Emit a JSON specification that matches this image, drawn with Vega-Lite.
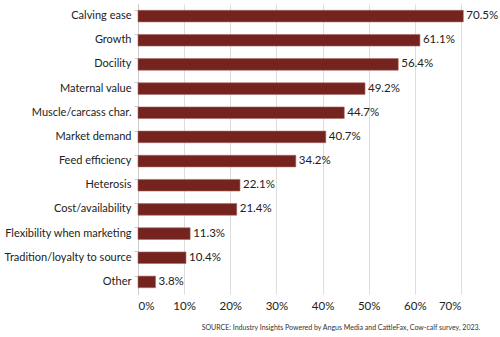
{
  "$schema": "https://vega.github.io/schema/vega-lite/v6.json",
  "autosize": "none",
  "width": 323,
  "height": 290,
  "padding": {"left": 138, "top": 4, "right": 39, "bottom": 43},
  "background": "white",
  "title": {
    "text": "SOURCE: Industry Insights Powered by Angus Media and CattleFax, Cow-calf survey, 2023.",
    "orient": "bottom",
    "anchor": "end",
    "fontSize": 7,
    "fontWeight": "normal",
    "font": "Lato",
    "color": "#333333",
    "offset": 12,
    "dx": -18
  },
  "data": {
    "values": [
      {"factor": "Calving ease", "value": 0.705},
      {"factor": "Growth", "value": 0.611},
      {"factor": "Docility", "value": 0.564},
      {"factor": "Maternal value", "value": 0.492},
      {"factor": "Muscle/carcass char.", "value": 0.447},
      {"factor": "Market demand", "value": 0.407},
      {"factor": "Feed efficiency", "value": 0.342},
      {"factor": "Heterosis", "value": 0.221},
      {"factor": "Cost/availability", "value": 0.214},
      {"factor": "Flexibility when marketing", "value": 0.113},
      {"factor": "Tradition/loyalty to source", "value": 0.104},
      {"factor": "Other", "value": 0.038}
    ]
  },
  "encoding": {
    "y": {
      "field": "factor",
      "type": "nominal",
      "sort": null,
      "title": null,
      "scale": {"paddingInner": 0.52, "paddingOuter": 0.26},
      "axis": {
        "bandPosition": 0,
        "domainColor": "#cccccc",
        "tickColor": "#cccccc",
        "tickSize": 4,
        "labelPadding": 3,
        "labelFont": "Lato",
        "labelFontSize": 11,
        "labelColor": "#222222",
        "grid": false
      }
    },
    "x": {
      "field": "value",
      "type": "quantitative",
      "title": null,
      "scale": {"domain": [0, 0.7], "nice": false},
      "axis": {
        "format": "%",
        "values": [0, 0.1, 0.2, 0.3, 0.4, 0.5, 0.6, 0.7],
        "domain": false,
        "ticks": false,
        "grid": true,
        "gridColor": "#dddddd",
        "labelFont": "Lato",
        "labelFontSize": 11.5,
        "labelColor": "#222222",
        "labelPadding": 6
      }
    }
  },
  "layer": [
    {
      "mark": {"type": "bar", "fill": "#74231f", "stroke": "#a66a66", "strokeWidth": 0.6, "clip": false}
    },
    {
      "mark": {"type": "text", "align": "left", "dx": 3, "font": "Lato", "fontSize": 11.5, "color": "#222222"},
      "encoding": {"text": {"field": "value", "type": "quantitative", "format": ".1%"}}
    }
  ],
  "config": {"view": {"stroke": null}}
}
